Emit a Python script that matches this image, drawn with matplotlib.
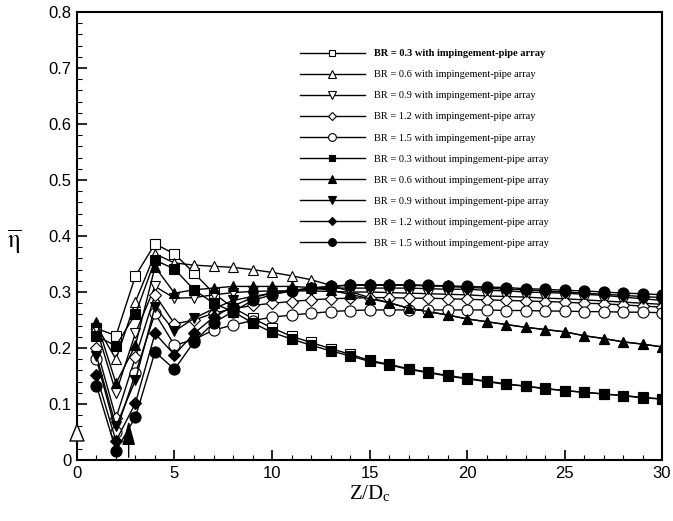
import numpy as np
import matplotlib.pyplot as plt

plt.rcParams['mathtext.fontset'] = 'stix'

# Z/Dc stations
z = list(range(1, 31))

# eta-bar
br03_with = [0.235, 0.222, 0.329, 0.386, 0.368, 0.334, 0.298, 0.272, 0.253, 0.236,
             0.221, 0.210, 0.199, 0.189, 0.178, 0.171, 0.163, 0.157, 0.151, 0.146,
             0.141, 0.136, 0.132, 0.128, 0.124, 0.121, 0.118, 0.115, 0.112, 0.109]
br06_with = [0.240, 0.180, 0.283, 0.368, 0.352, 0.348, 0.346, 0.344, 0.340, 0.335,
             0.329, 0.322, 0.312, 0.301, 0.290, 0.281, 0.271, 0.265, 0.259, 0.252,
             0.247, 0.242, 0.237, 0.233, 0.229, 0.222, 0.217, 0.211, 0.207, 0.202]
br09_with = [0.235, 0.120, 0.227, 0.310, 0.289, 0.290, 0.295, 0.299, 0.301, 0.302,
             0.302, 0.302, 0.301, 0.300, 0.300, 0.299, 0.298, 0.297, 0.296, 0.295,
             0.293, 0.292, 0.291, 0.289, 0.288, 0.286, 0.284, 0.282, 0.280, 0.278]
br12_with = [0.200, 0.075, 0.184, 0.295, 0.243, 0.250, 0.262, 0.270, 0.276, 0.280,
             0.283, 0.286, 0.288, 0.289, 0.290, 0.290, 0.289, 0.289, 0.288, 0.287,
             0.286, 0.285, 0.284, 0.283, 0.282, 0.280, 0.279, 0.277, 0.275, 0.273]
br15_with = [0.180, 0.050, 0.155, 0.262, 0.205, 0.215, 0.232, 0.241, 0.249, 0.255,
             0.259, 0.262, 0.265, 0.267, 0.268, 0.268, 0.268, 0.268, 0.268, 0.268,
             0.268, 0.267, 0.267, 0.266, 0.266, 0.265, 0.265, 0.264, 0.264, 0.263]
br03_without = [0.221, 0.204, 0.261, 0.357, 0.341, 0.304, 0.280, 0.265, 0.245, 0.228,
                0.216, 0.205, 0.195, 0.186, 0.176, 0.170, 0.162, 0.156, 0.150, 0.145,
                0.140, 0.135, 0.132, 0.127, 0.124, 0.121, 0.118, 0.115, 0.111, 0.109]
br06_without = [0.247, 0.137, 0.205, 0.345, 0.298, 0.304, 0.307, 0.310, 0.310, 0.310,
                0.310, 0.308, 0.303, 0.296, 0.288, 0.281, 0.271, 0.265, 0.259, 0.252,
                0.247, 0.242, 0.237, 0.233, 0.229, 0.222, 0.217, 0.211, 0.207, 0.202]
br09_without = [0.186, 0.060, 0.143, 0.274, 0.230, 0.253, 0.270, 0.285, 0.292, 0.298,
                0.302, 0.305, 0.307, 0.307, 0.307, 0.307, 0.307, 0.306, 0.305, 0.305,
                0.303, 0.302, 0.300, 0.299, 0.298, 0.296, 0.294, 0.291, 0.288, 0.285]
br12_without = [0.151, 0.034, 0.102, 0.226, 0.188, 0.226, 0.255, 0.275, 0.290, 0.298,
                0.303, 0.307, 0.310, 0.312, 0.312, 0.312, 0.312, 0.311, 0.310, 0.308,
                0.307, 0.305, 0.304, 0.302, 0.300, 0.298, 0.296, 0.294, 0.292, 0.290]
br15_without = [0.133, 0.017, 0.077, 0.193, 0.162, 0.211, 0.245, 0.265, 0.285, 0.295,
                0.302, 0.307, 0.310, 0.313, 0.313, 0.313, 0.313, 0.312, 0.311, 0.310,
                0.309, 0.308, 0.306, 0.305, 0.303, 0.302, 0.300, 0.298, 0.297, 0.295]

labels = ['BR = 0.3 with impingement-pipe array',
          'BR = 0.6 with impingement-pipe array',
          'BR = 0.9 with impingement-pipe array',
          'BR = 1.2 with impingement-pipe array',
          'BR = 1.5 with impingement-pipe array',
          'BR = 0.3 without impingement-pipe array',
          'BR = 0.6 without impingement-pipe array',
          'BR = 0.9 without impingement-pipe array',
          'BR = 1.2 without impingement-pipe array',
          'BR = 1.5 without impingement-pipe array']
series = [br03_with, br06_with, br09_with, br12_with, br15_with,
          br03_without, br06_without, br09_without, br12_without, br15_without]
markers = ['s', '^', 'v', 'D', 'o', 's', '^', 'v', 'D', 'o']
sizes = [6.5, 7.5, 7.5, 6, 8, 6.5, 7.5, 7.5, 6, 8]

fig = plt.figure(figsize=(6.73, 5.21), dpi=100)
ax = fig.add_axes([0.1144, 0.117, 0.8693, 0.860])

for i, (y, lab) in enumerate(zip(series, labels)):
    filled = i >= 5
    ax.plot(z, y, color='black', lw=1.0, marker=markers[i], ms=sizes[i],
            mfc='black' if filled else 'white', mec='black', mew=0.8, label=lab)

# arrows on the axis
ax.annotate('', xy=(0, 0.072), xytext=(0, 0.0),
            arrowprops=dict(arrowstyle='-|>,head_width=0.5,head_length=1.2',
                            fc='white', ec='black', lw=1.0), zorder=5)
ax.annotate('', xy=(2.65, 0.075), xytext=(2.65, 0.0),
            arrowprops=dict(arrowstyle='-|>,head_width=0.4,head_length=1.5',
                            fc='black', ec='black', lw=1.0), zorder=5)

ax.set_xlim(0, 30)
ax.set_ylim(0, 0.8)
ax.set_xticks(np.arange(0, 31, 5))
ax.set_xticks(np.arange(0, 31, 1), minor=True)
ax.set_yticks(np.arange(0, 0.81, 0.1))
ax.set_yticks(np.arange(0, 0.81, 0.02), minor=True)
ax.set_yticklabels(['0', '0.1', '0.2', '0.3', '0.4', '0.5', '0.6', '0.7', '0.8'])
ax.tick_params(which='both', direction='in', top=False, right=False)
ax.tick_params(which='major', length=7, width=1.2, labelsize=12, pad=4)
ax.tick_params(which='minor', length=3.5, width=0.8)
for lbl in ax.get_xticklabels() + ax.get_yticklabels():
    lbl.set_family('Liberation Sans')
for sp in ax.spines.values():
    sp.set_linewidth(1.5)

ax.set_xlabel(r'Z/D$_\mathregular{c}$', fontsize=15, family='Liberation Serif', labelpad=2)
fig.text(0.022, 0.537, r'$\overline{\mathrm{\eta}}$', fontsize=18, ha='center', va='center')

leg = ax.legend(loc='upper left', bbox_to_anchor=(300 / 673, 1 - 49 / 521),
                bbox_transform=fig.transFigure, frameon=False, borderpad=0,
                borderaxespad=0, prop={'family': 'Liberation Serif', 'size': 7.5},
                handlelength=6.2, markerscale=0.7, labelspacing=1.13, handletextpad=0.95)
leg.get_texts()[0].set_fontweight('bold')

fig.savefig('out.png', dpi=100)
